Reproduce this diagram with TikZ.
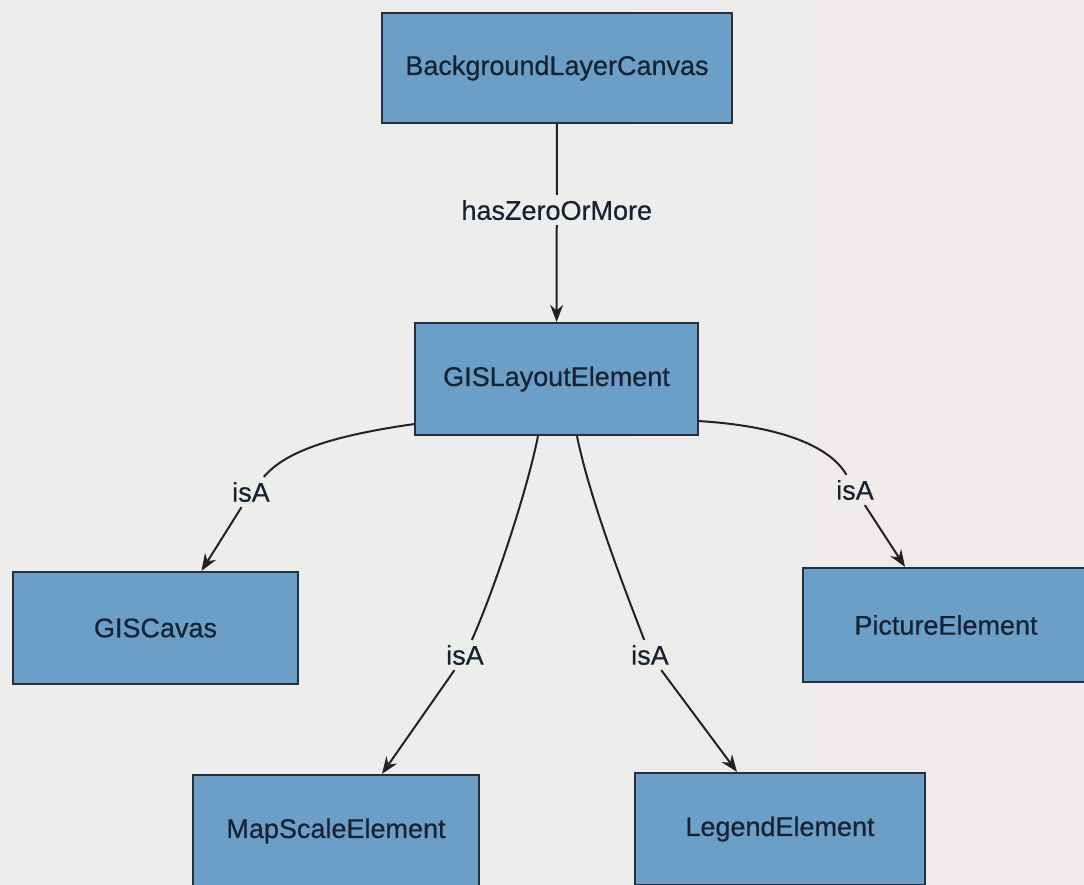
\documentclass[tikz,border=0pt]{standalone}
\usepackage{fontspec}
\setmainfont{Liberation Sans}
\newfontfamily\diagfont{Liberation Sans}[FakeBold=0.5]
\usetikzlibrary{arrows.meta}

\definecolor{paper}{HTML}{EDEDEB}
\definecolor{paperwarm}{HTML}{F0EAEA}
\definecolor{boxfill}{HTML}{6C9FC8}
\definecolor{boxline}{HTML}{22303F}
\definecolor{ink}{HTML}{16222F}
\definecolor{wire}{HTML}{222222}

\tikzset{
  classbox/.style={draw=boxline, line width=2.2pt, fill=boxfill,
    text=ink, font=\fontsize{27}{32}\diagfont, inner sep=0pt},
  rel/.style={draw=wire, line width=2pt},
  relarrow/.style={rel, -{Stealth[length=17pt, width=13pt]}},
  lbl/.style={font=\fontsize{27}{32}\diagfont, text=ink, inner sep=5pt},
}

\begin{document}
\begin{tikzpicture}[x=1pt, y=-1pt]
  % page, slightly warmer towards the right
  \shade[left color=paper, right color=paperwarm, middle color=paper] (0,0) rectangle (1084,885);
  \useasboundingbox (0,0) rectangle (1084,885);
  \clip (0,0) rectangle (1084,885);

  % classes
  \node[classbox, minimum width=350pt, minimum height=110pt] (blc) at (557,68) {BackgroundLayerCanvas};
  \node[classbox, minimum width=283pt, minimum height=112pt] (gle) at (556.5,379) {GISLayoutElement};
  \node[classbox, minimum width=285pt, minimum height=112pt] (gisc) at (155.5,628) {GISCavas};
  \node[classbox, minimum width=286pt, minimum height=114pt] (pic) at (946,625) {PictureElement};
  \node[classbox, minimum width=286pt, minimum height=112pt] (mse) at (336,831) {MapScaleElement};
  \node[classbox, minimum width=290pt, minimum height=112pt] (leg) at (780,829) {LegendElement};

  % composition
  \draw[relarrow] (blc) -- node[lbl, pos=0.435, fill=paper] (hz) {hasZeroOrMore} (gle);

  % specialisation labels
  \node[lbl] (isa1) at (251,492) {isA};
  \node[lbl] (isa2) at (855,490) {isA};
  \node[lbl] (isa3) at (465,655) {isA};
  \node[lbl] (isa4) at (650,655) {isA};

  % specialisation links: curved out of the parent, straight into the child
  \draw[rel] ([yshift=12pt]gle.south west) .. controls (330,436) and (285,452) .. (isa1);
  \draw[relarrow] (isa1) -- ([xshift=46pt]gisc.north);

  \draw[rel] ([yshift=15pt]gle.south east) .. controls (780,426) and (830,446) .. (isa2);
  \draw[relarrow] (isa2) -- ([xshift=-41pt]pic.north);

  \draw[rel] ([xshift=-18.5pt]gle.south) .. controls (525,500) and (490,600) .. (isa3);
  \draw[relarrow] (isa3) -- ([xshift=46pt]mse.north);

  \draw[rel] ([xshift=20.5pt]gle.south) .. controls (590,500) and (625,590) .. (isa4);
  \draw[relarrow] (isa4) -- ([xshift=-43pt]leg.north);
\end{tikzpicture}
\end{document}
